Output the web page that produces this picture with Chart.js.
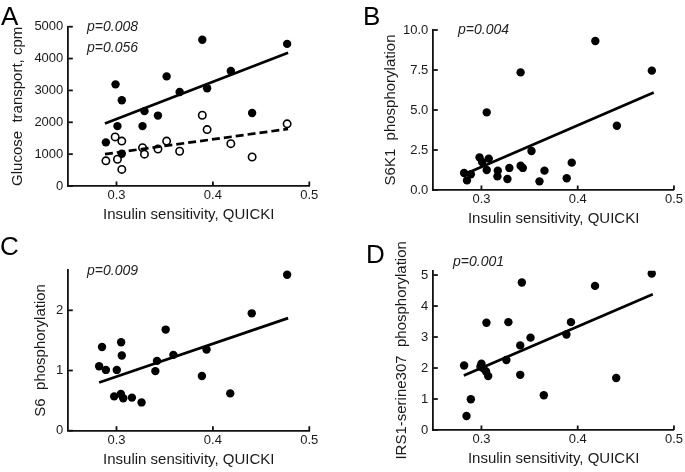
<!DOCTYPE html>
<html>
<head>
<meta charset="utf-8">
<script src="https://cdn.jsdelivr.net/npm/chart.js@4.4.1/dist/chart.umd.min.js"></script>
<style>
  html, body { margin: 0; padding: 0; background: #fff; }
  #wrap { position: relative; width: 685px; height: 472px; overflow: hidden; font-family: "Liberation Sans", Arial, sans-serif; color: #111; }
  canvas { position: absolute; }
  .letter { position: absolute; font-size: 26px; line-height: 26px; color: #000; }
  .pval { position: absolute; font-size: 14px; line-height: 14px; font-style: italic; color: #222; white-space: nowrap; }
</style>
</head>
<body>
<div id="wrap">
  <canvas id="cA" width="342" height="236" style="left:0;top:0;width:342px;height:236px"></canvas>
  <canvas id="cB" width="343" height="236" style="left:342px;top:0;width:343px;height:236px"></canvas>
  <canvas id="cC" width="342" height="236" style="left:0;top:236px;width:342px;height:236px"></canvas>
  <canvas id="cD" width="343" height="236" style="left:342px;top:236px;width:343px;height:236px"></canvas>
  <div class="letter" style="left:1px;top:3px">A</div>
  <div class="letter" style="left:363px;top:3px">B</div>
  <div class="letter" style="left:0px;top:233px">C</div>
  <div class="letter" style="left:366px;top:241px">D</div>
  <div class="pval" style="left:87px;top:19px">p=0.008</div>
  <div class="pval" style="left:87px;top:40px">p=0.056</div>
  <div class="pval" style="left:458px;top:22px">p=0.004</div>
  <div class="pval" style="left:87px;top:263px">p=0.009</div>
  <div class="pval" style="left:453px;top:254px">p=0.001</div>
</div>
<script>
// ---------------- DATA ----------------
const xTicks = [0.3, 0.4, 0.5];
const xTitle = "Insulin sensitivity, QUICKI";

// Panel A: glucose transport (filled = one condition, open = the other)
const aFilledX = [0.289, 0.299, 0.301, 0.3055, 0.3055, 0.327, 0.329, 0.343, 0.352, 0.3655, 0.389, 0.394, 0.4186, 0.4407, 0.477];
const aFilledY = [1370, 3190, 1880, 2690, 1010, 1880, 2350, 2210, 3440, 2950, 4590, 3070, 3610, 2290, 4460];
const aOpenX   = [0.289, 0.2986, 0.301, 0.3055, 0.3055, 0.327, 0.329, 0.343, 0.352, 0.3655, 0.389, 0.394, 0.4186, 0.4407, 0.477];
const aOpenY   = [790, 1540, 840, 1410, 520, 1200, 1000, 1160, 1410, 1090, 2220, 1770, 1330, 910, 1950];
const aFitX    = [0.288, 0.478];
const aFitY    = [1960, 4180];
const aDashX   = [0.288, 0.478];
const aDashY   = [1000, 1790];
const aYTicks  = [0, 1000, 2000, 3000, 4000, 5000];

// Panel B: S6K1 phosphorylation
const bX = [0.282, 0.285, 0.289, 0.298, 0.3007, 0.3055, 0.3055, 0.3076, 0.3166, 0.317, 0.327, 0.329, 0.3407, 0.3407, 0.343, 0.352, 0.3603, 0.3655, 0.3886, 0.3938, 0.4183, 0.4407, 0.477];
const bY = [1.06, 0.60, 0.98, 2.04, 1.75, 4.85, 1.25, 1.96, 0.85, 1.21, 0.69, 1.38, 7.35, 1.52, 1.38, 2.44, 0.54, 1.21, 0.73, 1.71, 9.31, 4.02, 7.46];
const bFitX = [0.283, 0.479];
const bFitY = [1.0, 6.1];
const bYTicks = [0, 2.5, 5, 7.5, 10];

// Panel C: S6 phosphorylation
const cX = [0.282, 0.285, 0.289, 0.2976, 0.3003, 0.3045, 0.3048, 0.3055, 0.307, 0.316, 0.326, 0.3403, 0.342, 0.351, 0.359, 0.3886, 0.3934, 0.418, 0.4403, 0.477];
const cY = [1.07, 1.39, 1.01, 0.57, 1.01, 0.61, 1.47, 1.25, 0.54, 0.55, 0.47, 0.99, 1.16, 1.68, 1.26, 0.91, 1.35, 0.62, 1.95, 2.59];
const cFitX = [0.282, 0.478];
const cFitY = [0.80, 1.87];
const cYTicks = [0, 1, 2];

// Panel D: IRS1-serine307 phosphorylation
const dX = [0.282, 0.2845, 0.289, 0.299, 0.300, 0.302, 0.3052, 0.3048, 0.307, 0.3259, 0.328, 0.3403, 0.3403, 0.342, 0.351, 0.3648, 0.3883, 0.393, 0.418, 0.440, 0.4769];
const dY = [2.08, 0.45, 0.99, 2.04, 2.14, 1.99, 3.46, 1.89, 1.74, 2.26, 3.48, 2.73, 1.78, 4.76, 2.98, 1.12, 3.08, 3.48, 4.65, 1.68, 5.05];
const dFitX = [0.2817, 0.478];
const dFitY = [1.76, 4.38];
const dYTicks = [0, 1, 2, 3, 4, 5];

// ---------------- RENDERING ----------------
Chart.defaults.font.family = '"Liberation Sans", Arial, sans-serif';
Chart.defaults.color = '#1a1a1a';

const INK = '#111';
const AXIS_W = 1.8;
const pts = (xs, ys) => xs.map((x, i) => ({ x: x, y: ys[i] }));

// inward-pointing tick marks, placed with the chart's own scales
const inwardTicks = {
  id: 'inwardTicks',
  afterDatasetsDraw(chart) {
    const ctx = chart.ctx;
    ctx.save();
    ctx.strokeStyle = INK;
    ctx.lineWidth = AXIS_W;
    ctx.lineCap = 'butt';
    const xs = chart.scales.x, ys = chart.scales.y;
    xs.ticks.forEach(t => {
      const px = xs.getPixelForValue(t.value);
      ctx.beginPath(); ctx.moveTo(px, xs.top); ctx.lineTo(px, xs.top - 4.5); ctx.stroke();
    });
    ys.ticks.forEach(t => {
      const py = ys.getPixelForValue(t.value);
      ctx.beginPath(); ctx.moveTo(ys.right, py); ctx.lineTo(ys.right + 4.5, py); ctx.stroke();
    });
    ctx.restore();
  }
};

function filledSet(xs, ys) {
  return { type: 'scatter', data: pts(xs, ys), pointRadius: 4.2, pointBackgroundColor: '#000', pointBorderColor: '#000', pointBorderWidth: 0, pointStyle: 'circle' };
}
function openSet(xs, ys) {
  return { type: 'scatter', data: pts(xs, ys), pointRadius: 3.7, pointBackgroundColor: '#fff', pointBorderColor: '#000', pointBorderWidth: 1.6, pointStyle: 'circle' };
}
function fitSet(xs, ys, dashed) {
  return { type: 'line', data: pts(xs, ys), showLine: true, borderColor: '#000', borderWidth: 2.7, borderDash: dashed ? [8, 4] : [], pointRadius: 0, fill: false, tension: 0 };
}

function makePanel(id, datasets, yTicks, yMax, yTitle, yFmt, geo) {
  new Chart(document.getElementById(id), {
    type: 'scatter',
    data: { datasets: datasets },
    plugins: [inwardTicks],
    options: {
      responsive: false,
      animation: false,
      events: [],
      layout: { padding: { left: 0, top: geo.top, right: geo.right, bottom: 0 } },
      plugins: { legend: { display: false }, tooltip: { enabled: false } },
      scales: {
        x: {
          type: 'linear', min: 0.25, max: 0.5,
          afterBuildTicks: s => { s.ticks = xTicks.map(v => ({ value: v })); },
          afterFit: s => { s.height = geo.xh; },
          ticks: { font: { size: 13 }, padding: 2, color: '#1a1a1a', callback: v => v.toFixed(1) },
          grid: { display: false, drawOnChartArea: false, drawTicks: false, tickLength: 0 },
          border: { display: true, color: INK, width: AXIS_W },
          title: { display: true, text: xTitle, font: { size: 15 }, color: '#1a1a1a', padding: { top: 0, bottom: geo.xtp } }
        },
        y: {
          type: 'linear', min: 0, max: yMax,
          afterBuildTicks: s => { s.ticks = yTicks.map(v => ({ value: v })); },
          afterFit: s => { s.width = geo.yw; },
          ticks: { font: { size: 13 }, padding: 5, color: '#1a1a1a', callback: yFmt },
          grid: { display: false, drawOnChartArea: false, drawTicks: false, tickLength: 0 },
          border: { display: true, color: INK, width: AXIS_W },
          title: { display: true, text: yTitle, font: { size: 15 }, color: '#1a1a1a', padding: { top: geo.ytp, bottom: 0 } }
        }
      }
    }
  });
}

makePanel('cA',
  [fitSet(aFitX, aFitY, false), fitSet(aDashX, aDashY, true), filledSet(aFilledX, aFilledY), openSet(aOpenX, aOpenY)],
  aYTicks, 5000, 'Glucose  transport, cpm', v => String(v),
  { top: 26.7, right: 32.7, xh: 50, yw: 68.3, xtp: 12, ytp: 9 });

makePanel('cB',
  [fitSet(bFitX, bFitY, false), filledSet(bX, bY)],
  bYTicks, 10, 'S6K1  phosphorylation', v => v.toFixed(1),
  { top: 30, right: 10.7, xh: 46, yw: 91.3, xtp: 8, ytp: 40 });

makePanel('cC',
  [fitSet(cFitX, cFitY, false), filledSet(cX, cY)],
  cYTicks, 2.67, 'S6  phosphorylation', v => String(v),
  { top: 34, right: 32.7, xh: 41.3, yw: 68.3, xtp: 3, ytp: 32 });

makePanel('cD',
  [fitSet(dFitX, dFitY, false), filledSet(dX, dY)],
  dYTicks, 5.14, 'IRS1-serine307  phosphorylation', v => String(v),
  { top: 34.7, right: 10.7, xh: 42, yw: 91.3, xtp: 4, ytp: 51 });
</script>
</body>
</html>
